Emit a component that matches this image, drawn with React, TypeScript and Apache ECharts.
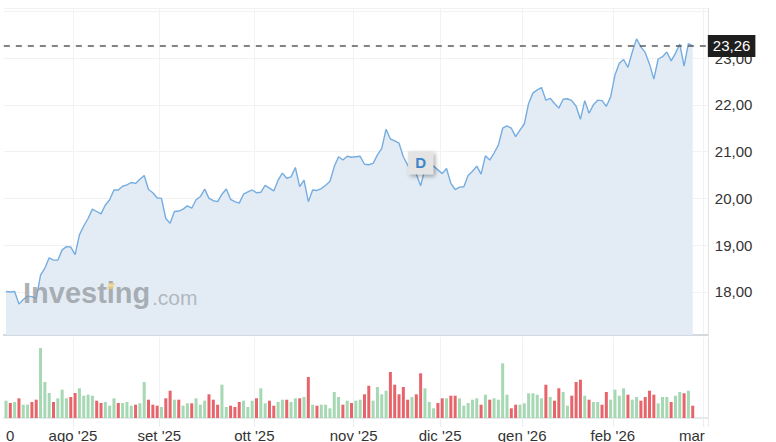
import React, { useEffect, useRef } from "react";
import * as echarts from "echarts";

// Daily closing prices
const prices: number[] = [
  18.01, 18.0, 18.01, 17.74, 17.84, 17.91, 17.9, 17.86, 18.36, 18.51,
  18.73, 18.68, 18.68, 18.9, 18.97, 18.96, 18.8, 19.22, 19.41, 19.57,
  19.77, 19.72, 19.67, 19.86, 19.97, 20.18, 20.18, 20.26, 20.29, 20.34,
  20.32, 20.41, 20.49, 20.19, 20.12, 20.01, 20.0, 19.57, 19.47, 19.72,
  19.73, 19.77, 19.84, 19.79, 19.97, 20.04, 20.2, 20.0, 19.95, 19.93,
  20.09, 20.2, 19.98, 19.93, 19.9, 20.09, 20.14, 20.18, 20.12, 20.13,
  20.28, 20.22, 20.16, 20.39, 20.54, 20.43, 20.46, 20.66, 20.25, 20.39,
  19.93, 20.18, 20.17, 20.21, 20.28, 20.36, 20.68, 20.89, 20.82, 20.9,
  20.88, 20.89, 20.9, 20.73, 20.72, 20.75, 20.93, 21.07, 21.48, 21.27,
  21.23, 21.18, 20.89, 20.71, 20.62, 20.52, 20.27, 20.62, 20.72, 20.69,
  20.61, 20.53, 20.64, 20.32, 20.19, 20.24, 20.25, 20.49, 20.58, 20.69,
  20.52, 20.91, 20.82, 20.97, 21.14, 21.5, 21.55, 21.5, 21.32, 21.46,
  21.59, 22.03, 22.25, 22.32, 22.37, 22.1, 22.14, 22.03, 21.93, 22.12,
  22.13, 22.09, 21.97, 21.69, 22.09, 21.82, 22.0, 22.1, 22.09, 21.97,
  22.17, 22.64, 22.89, 22.97, 22.8, 23.13, 23.41, 23.24, 23.12, 22.87,
  22.55, 22.98, 23.03, 23.13, 22.94, 23.1, 23.3, 22.83, 23.31, 23.26,
];

// Daily volumes (relative units)
const volumes: number[] = [
  17.3, 15, 16, 19.7, 13.3, 13.3, 16, 18.3, 70, 36,
  25, 16, 19.7, 28.3, 19.7, 21, 25, 29.7, 22.3, 23.3,
  22.3, 17.3, 15, 16, 12.3, 19.7, 15, 15, 16, 12.3,
  13.3, 14.7, 36, 18.3, 13.3, 12.3, 11, 19.7, 27.3, 18.3,
  18.3, 12.3, 14.7, 14.7, 19.7, 13.3, 17.3, 23.7, 18.3, 13.3,
  33.3, 11, 12.3, 11, 16, 17.3, 11, 17.3, 19.7, 29.7,
  14.7, 17.3, 12.3, 16, 18.3, 18.3, 16, 19.7, 19.7, 21,
  41, 13.3, 12.3, 13.3, 13.3, 9.7, 26, 21, 13.3, 17.3,
  15, 17.3, 18.3, 23.7, 32.3, 17.3, 31, 23.7, 27.3, 46,
  33.3, 23.7, 31, 18.3, 21, 23.7, 44.7, 29.7, 16, 9.7,
  15, 19.7, 19.7, 22.3, 22.3, 19.7, 12.3, 15, 18.3, 19.7,
  13.3, 23.3, 18.3, 19.7, 18.3, 54.7, 23.3, 9.7, 13.3, 13.3,
  14.7, 24.7, 24.7, 23.3, 19.7, 33.3, 21, 17.3, 29.7, 26,
  12.3, 22.3, 36, 38.3, 22.3, 18.3, 16, 16, 13.3, 26,
  18.3, 28.3, 22.3, 29.7, 23.3, 18.3, 21, 17.3, 21, 27.3,
  23.3, 14.7, 21, 21, 16, 22.3, 26, 24.7, 27.3, 12.3,
];

// Bar direction per day: G = up (green), R = down (red)
const volumeDirection: string[] = [
  "GRGRGGRRGG", "GRGGGRRGGG", "GRRGGGRGGG", "RGGRRRGRRG",
  "RGGRGGGRRR", "GGRRRGGGRG", "GRRGGRGGRG", "RGRGGGGGRG",
  "RGGRRGGGGR", "RRRRGRRGGG", "RRGRRGGGGG", "RGRGGGGRRG",
  "GGGGGRGRRG", "GRRRGRGGRR", "GGGGRGGRRR", "RGGGRGGRGR",
].join("").split("");

// Month tick labels at the first trading day of each month (category index)
const monthTickIndex: number[] = [16, 36, 58, 81, 101, 120, 141, 162];
const monthTickText: string[] = ["ago '25", "set '25", "ott '25", "nov '25", "dic '25", "gen '26", "feb '26", "mar"];
const leadingLabel = { index: 0, text: "0" };

// Empty trailing slots after the last trading day
const trailingSlots = 3;

// Dividend marker
const dividendMarker = { index: 96, text: "D" };

const FONT = "Arial, 'Liberation Sans', sans-serif";
const fmt = (v: number) => v.toFixed(2).replace(".", ",");

export default function App() {
  const ref = useRef<HTMLDivElement>(null);

  useEffect(() => {
    if (!ref.current) return;
    const chart = echarts.init(ref.current, undefined, { renderer: "svg" });

    const categories = Array.from({ length: prices.length + trailingSlots }, (_, i) => String(i));
    const labelMap = new Map<number, string>();
    labelMap.set(leadingLabel.index, leadingLabel.text);
    monthTickIndex.forEach((idx, k) => labelMap.set(idx, monthTickText[k]));
    const tickSet = new Set(monthTickIndex);
    const lastTick = monthTickIndex[monthTickIndex.length - 1];
    const last = prices[prices.length - 1];

    const gridLeft = 3.84;
    const gridWidth = 704;

    chart.setOption({
      animation: false,
      backgroundColor: "#ffffff",
      grid: [
        { left: gridLeft, top: 8, width: gridWidth, height: 327, outerBoundsMode: "none" },
        { left: gridLeft, top: 337, width: gridWidth, height: 81, outerBoundsMode: "none" },
      ],
      xAxis: [
        {
          type: "category",
          gridIndex: 0,
          data: categories,
          boundaryGap: true,
          axisLine: { show: true, lineStyle: { color: "#d3d9df", width: 2 } },
          axisTick: { show: false },
          axisLabel: { show: false },
          splitLine: {
            show: true,
            interval: (i: number) => tickSet.has(i),
            lineStyle: { color: "#f1f2f3", width: 1 },
          },
        },
        {
          type: "category",
          gridIndex: 1,
          data: categories,
          boundaryGap: true,
          axisLine: { show: true, lineStyle: { color: "#dfe3e7", width: 1.5 } },
          axisTick: {
            show: true,
            length: 9,
            interval: (i: number) => tickSet.has(i),
            lineStyle: { color: "#ebedef" },
          },
          splitLine: {
            show: true,
            interval: (i: number) => tickSet.has(i),
            lineStyle: { color: "#f1f2f3", width: 1 },
          },
          axisLabel: {
            show: true,
            margin: 10,
            interval: (i: number) => labelMap.has(i),
            formatter: (_v: string, i: number) => {
              const t = labelMap.get(i) ?? "";
              if (i === leadingLabel.index) return `{first|${t}}`;
              if (i === lastTick) return `{last|${t}}`;
              return `{m|${t}}`;
            },
            rich: {
              m: { fontSize: 15, fontFamily: FONT, color: "#333", padding: [0, 4.3, 0, 0] },
              first: { fontSize: 15, fontFamily: FONT, color: "#333", padding: [0, 0, 0, 8.3] },
              last: { fontSize: 15, fontFamily: FONT, color: "#333", padding: [0, 27.6, 0, 0] },
            },
          },
        },
      ],
      yAxis: [
        {
          type: "value",
          gridIndex: 0,
          position: "right",
          min: 17.08,
          max: 24.07,
          splitNumber: 7,
          axisLine: { show: true, lineStyle: { color: "#e3e3e3" } },
          axisTick: { show: false },
          axisLabel: {
            margin: 7,
            fontSize: 15,
            fontFamily: FONT,
            color: "#333",
            formatter: (v: number) => (v >= 18 && v <= 23 && Math.abs(v - Math.round(v)) < 1e-6 ? fmt(v) : ""),
          },
          splitLine: { show: true, lineStyle: { color: "#f2f2f2" } },
        },
        {
          type: "value",
          gridIndex: 1,
          position: "right",
          min: 0,
          max: 81,
          axisLine: { show: true, lineStyle: { color: "#e3e3e3" } },
          axisTick: { show: false },
          axisLabel: { show: false },
          splitLine: { show: false },
        },
      ],
      graphic: [
        {
          type: "text",
          x: 23,
          y: 278,
          z: 20,
          silent: true,
          style: {
            text: "Investing",
            fontSize: 29,
            fontWeight: "bold",
            fontFamily: FONT,
            fill: "rgba(150,156,162,0.78)",
            verticalAlign: "top",
          },
        },
        {
          type: "polygon",
          z: 21,
          silent: true,
          shape: { points: [[109, 283], [115, 283], [113, 289], [107, 289]] },
          style: { fill: "rgba(240,205,120,0.7)" },
        },
        {
          type: "text",
          x: 152,
          y: 287,
          z: 20,
          silent: true,
          style: {
            text: ".com",
            fontSize: 21,
            fontFamily: FONT,
            fill: "rgba(160,166,172,0.75)",
            verticalAlign: "top",
          },
        },
      ],
      series: [
        {
          type: "line",
          xAxisIndex: 0,
          yAxisIndex: 0,
          data: prices,
          showSymbol: false,
          symbol: "none",
          silent: true,
          z: 3,
          lineStyle: { color: "#76ade0", width: 1.4 },
          areaStyle: { color: "#e3ecf4", opacity: 1 },
          markLine: {
            silent: true,
            symbol: ["none", "none"],
            z: 10,
            lineStyle: { color: "#5a5a5a", width: 1.5, type: [6, 6] },
            label: {
              show: true,
              position: "end",
              distance: 0,
              formatter: () => fmt(last),
              color: "#ffffff",
              backgroundColor: "#1e1e1e",
              padding: [4, 5, 3, 5],
              fontSize: 15,
              fontFamily: FONT,
            },
            data: [{ yAxis: last }],
          },
          markPoint: {
            silent: true,
            z: 10,
            data: [
              {
                coord: [String(dividendMarker.index), prices[dividendMarker.index]],
                symbol: "rect",
                symbolSize: [25, 23],
                symbolOffset: [0, -23],
                itemStyle: {
                  color: "#e4e4e4",
                  shadowBlur: 4,
                  shadowOffsetX: 2,
                  shadowOffsetY: 2,
                  shadowColor: "rgba(0,0,0,0.35)",
                },
                label: {
                  show: true,
                  formatter: dividendMarker.text,
                  color: "#3a84c9",
                  fontSize: 15,
                  fontWeight: "bold",
                  fontFamily: FONT,
                },
              },
            ],
          },
        },
        {
          type: "bar",
          xAxisIndex: 1,
          yAxisIndex: 1,
          silent: true,
          barWidth: 3,
          data: volumes.map((v, i) => ({
            value: v,
            itemStyle: { color: volumeDirection[i] === "G" ? "#a6d8b3" : "#e6646a" },
          })),
        },
      ],
    });

    return () => chart.dispose();
  }, []);

  return (
    <div
      ref={ref}
      style={{ position: "fixed", left: 0, top: 0, width: 776, height: 442, background: "#fff" }}
    />
  );
}
